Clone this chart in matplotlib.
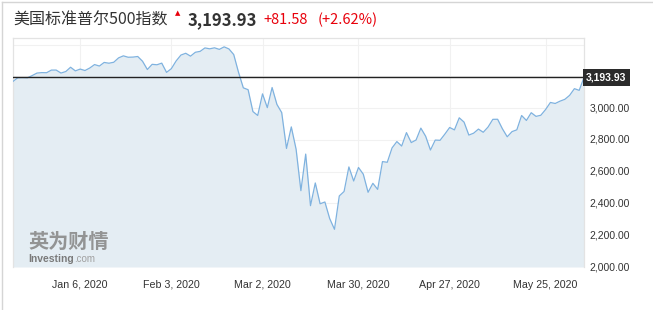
"""
S&P 500 six-month daily close chart (Investing.com style card).
"""

import matplotlib

matplotlib.use("Agg")
import matplotlib.pyplot as plt
import numpy as np
import pandas as pd
from matplotlib.lines import Line2D

# ---------------------------------------------------------------------------
# Data (daily closes)
# ---------------------------------------------------------------------------

DATES = [
    "2019-12-13", "2019-12-16", "2019-12-17", "2019-12-18", "2019-12-19", "2019-12-20",
    "2019-12-23", "2019-12-24", "2019-12-26", "2019-12-27", "2019-12-30", "2019-12-31",
    "2020-01-02", "2020-01-03", "2020-01-06", "2020-01-07", "2020-01-08", "2020-01-09",
    "2020-01-10", "2020-01-13", "2020-01-14", "2020-01-15", "2020-01-16", "2020-01-17",
    "2020-01-21", "2020-01-22", "2020-01-23", "2020-01-24", "2020-01-27", "2020-01-28",
    "2020-01-29", "2020-01-30", "2020-01-31", "2020-02-03", "2020-02-04", "2020-02-05",
    "2020-02-06", "2020-02-07", "2020-02-10", "2020-02-11", "2020-02-12", "2020-02-13",
    "2020-02-14", "2020-02-18", "2020-02-19", "2020-02-20", "2020-02-21", "2020-02-24",
    "2020-02-25", "2020-02-26", "2020-02-27", "2020-02-28", "2020-03-02", "2020-03-03",
    "2020-03-04", "2020-03-05", "2020-03-06", "2020-03-09", "2020-03-10", "2020-03-11",
    "2020-03-12", "2020-03-13", "2020-03-16", "2020-03-17", "2020-03-18", "2020-03-19",
    "2020-03-20", "2020-03-23", "2020-03-24", "2020-03-25", "2020-03-26", "2020-03-27",
    "2020-03-30", "2020-03-31", "2020-04-01", "2020-04-02", "2020-04-03", "2020-04-06",
    "2020-04-07", "2020-04-08", "2020-04-09", "2020-04-13", "2020-04-14", "2020-04-15",
    "2020-04-16", "2020-04-17", "2020-04-20", "2020-04-21", "2020-04-22", "2020-04-23",
    "2020-04-24", "2020-04-27", "2020-04-28", "2020-04-29", "2020-04-30", "2020-05-01",
    "2020-05-04", "2020-05-05", "2020-05-06", "2020-05-07", "2020-05-08", "2020-05-11",
    "2020-05-12", "2020-05-13", "2020-05-14", "2020-05-15", "2020-05-18", "2020-05-19",
    "2020-05-20", "2020-05-21", "2020-05-22", "2020-05-26", "2020-05-27", "2020-05-28",
    "2020-05-29", "2020-06-01", "2020-06-02", "2020-06-03", "2020-06-04", "2020-06-05",
]

CLOSES = [
    3168.8, 3191.5, 3192.5, 3191.1, 3205.4, 3221.2,
    3224.0, 3223.4, 3239.9, 3240.0, 3221.3, 3230.8,
    3257.9, 3234.9, 3246.3, 3237.2, 3253.1, 3274.7,
    3265.4, 3288.1, 3283.2, 3289.3, 3316.8, 3329.6,
    3320.8, 3321.8, 3325.5, 3295.5, 3243.6, 3276.2,
    3273.4, 3283.7, 3225.5, 3248.9, 3297.6, 3334.7,
    3345.8, 3327.7, 3352.1, 3357.8, 3379.5, 3373.9,
    3380.2, 3370.3, 3386.2, 3373.2, 3337.8, 3225.9,
    3128.2, 3116.4, 2978.8, 2954.2, 3090.2, 3003.4,
    3130.1, 3023.9, 2972.4, 2746.6, 2882.2, 2741.4,
    2480.6, 2711.0, 2386.1, 2529.2, 2398.1, 2409.4,
    2304.9, 2237.4, 2447.3, 2475.6, 2630.1, 2541.5,
    2626.7, 2584.6, 2470.5, 2526.9, 2488.7, 2663.7,
    2659.4, 2750.0, 2789.8, 2761.6, 2846.1, 2783.4,
    2799.6, 2874.6, 2823.2, 2736.6, 2799.3, 2797.8,
    2836.7, 2878.5, 2863.4, 2939.5, 2912.4, 2830.7,
    2842.7, 2868.4, 2848.4, 2881.2, 2929.8, 2930.3,
    2870.1, 2820.0, 2852.5, 2863.7, 2953.9, 2922.9,
    2971.6, 2948.5, 2955.5, 2991.8, 3036.1, 3029.7,
    3044.3, 3055.7, 3080.8, 3122.9, 3112.4, 3193.93,
]

LAST_PRICE = 3193.93
CHANGE_TEXT = "+81.58"
CHANGE_PCT_TEXT = "(+2.62%)"
TITLE = "美国标准普尔500指数"

X_TICK_DATES = ["2020-01-06", "2020-02-03", "2020-03-02", "2020-03-30", "2020-04-27", "2020-05-25"]
X_TICK_LABELS = ["Jan 6, 2020", "Feb 3, 2020", "Mar 2, 2020", "Mar 30, 2020", "Apr 27, 2020", "May 25, 2020"]
Y_TICKS = [2000, 2200, 2400, 2600, 2800, 3000, 3200, 3400]
Y_TICK_LABELS = ["2,000.00", "2,200.00", "2,400.00", "2,600.00", "2,800.00", "3,000.00", "", ""]

# ---------------------------------------------------------------------------
# Style
# ---------------------------------------------------------------------------

W, H = 653, 310
TEXT_COLOR = "#333333"
RED = "#e8000b"
LINE_COLOR = "#7fb2df"
FILL_COLOR = "#e4edf3"
FRAME_COLOR = "#e3e3e3"
GRID_COLOR = "#f1f1f1"
CJK = ["Noto Sans CJK SC", "DejaVu Sans"]
SANS = ["Liberation Sans", "DejaVu Sans"]


def fx(px):
    return px / W


def fy(py):
    return 1 - py / H


def main():
    dates = pd.to_datetime(DATES)
    x = np.arange(len(dates))
    y = np.array(CLOSES)
    tick_pos = np.searchsorted(dates.values, pd.to_datetime(X_TICK_DATES).values)

    fig = plt.figure(figsize=(W / 100, H / 100), dpi=100, facecolor="white")
    ax = fig.add_axes([fx(13), fy(267), fx(584 - 13), (267 - 38) / H])

    ax.fill_between(x, y, 2000, color=FILL_COLOR, linewidth=0, zorder=1)
    ax.plot(x, y, color=LINE_COLOR, linewidth=0.9, zorder=3)
    ax.axhline(LAST_PRICE, color="#222222", linewidth=1.0, zorder=4)

    ax.set_xlim(x[0], x[-1])
    ax.set_ylim(2000, 3442)

    ax.set_xticks(tick_pos)
    ax.set_xticklabels(X_TICK_LABELS, fontsize=7.7, family=SANS, color=TEXT_COLOR)
    ax.set_yticks(Y_TICKS)
    ax.set_yticklabels(Y_TICK_LABELS, fontsize=7.5, family=SANS, color=TEXT_COLOR)
    ax.yaxis.tick_right()
    ax.tick_params(axis="x", length=0, pad=9)
    ax.tick_params(axis="y", length=0, pad=4)
    for lbl in ax.get_yticklabels():
        lbl.set_verticalalignment("center")

    ax.grid(True, color=GRID_COLOR, linewidth=0.8, zorder=0)
    ax.set_axisbelow(True)
    for spine in ax.spines.values():
        spine.set_color(FRAME_COLOR)
        spine.set_linewidth(0.9)
    ax.spines["bottom"].set_visible(False)

    # current price tag on the right axis
    ax.annotate(
        f"{LAST_PRICE:,.2f}", xy=(1.0, LAST_PRICE), xycoords=("axes fraction", "data"),
        xytext=(1.5, 0), textcoords="offset points", ha="left", va="center",
        fontsize=7.5, family=SANS, color="white", fontweight="bold",
        bbox=dict(boxstyle="square,pad=0.3", facecolor="#2b2b2b", edgecolor="none"),
        zorder=6, annotation_clip=False,
    )

    # watermark
    ax.text(0.027, 0.085, "英为财情", transform=ax.transAxes, fontsize=14.5,
            family=CJK, fontweight="bold", color="#8a8a8a", alpha=0.9, zorder=2)
    inv = ax.text(0.027, 0.022, "Investing", transform=ax.transAxes, fontsize=7.5,
                  family=SANS, fontweight="bold", color="#7a7a7a", zorder=2)
    ax.annotate(".com", xy=(1.0, 0.0), xycoords=inv, ha="left", va="bottom",
                fontsize=7, family=SANS, color="#a0a0a0", zorder=2)

    # header
    fig.text(fx(13), fy(20), TITLE, fontsize=11.5, family=CJK, color=TEXT_COLOR,
             ha="left", va="center")
    fig.text(fx(178), fy(13), "▲", fontsize=5, family=["DejaVu Sans"], color=RED,
             ha="center", va="center")
    fig.text(fx(188), fy(20), f"{LAST_PRICE:,.2f}", fontsize=12, family=CJK,
             fontweight="bold", color=TEXT_COLOR, ha="left", va="center")
    fig.text(fx(263), fy(20), CHANGE_TEXT, fontsize=10.5, family=CJK,
             color=RED, ha="left", va="center")
    fig.text(fx(318), fy(20), CHANGE_PCT_TEXT, fontsize=10.5, family=CJK,
             color=RED, ha="left", va="center")

    # card border (top and left edges)
    fig.add_artist(Line2D([fx(2), 1], [fy(2), fy(2)], color="#d5d5d5", linewidth=1))
    fig.add_artist(Line2D([fx(2), fx(2)], [fy(2), 0], color="#d5d5d5", linewidth=1))

    fig.savefig("out.png", dpi=100, facecolor="white")
    plt.close(fig)


if __name__ == "__main__":
    main()
